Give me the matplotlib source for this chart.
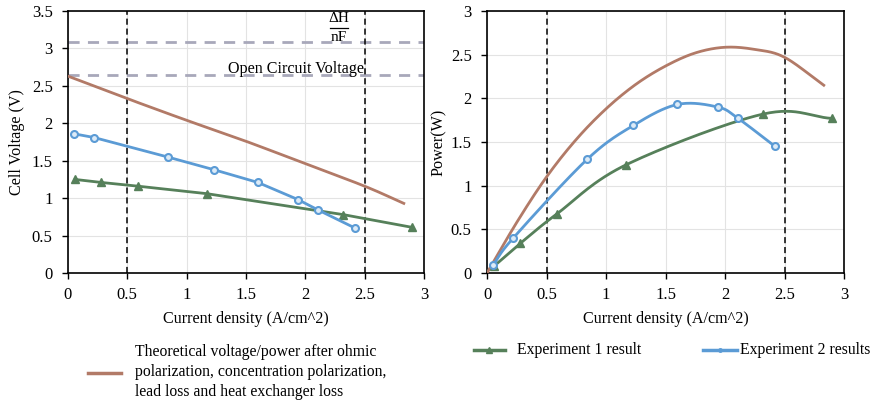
import numpy as np
import matplotlib
matplotlib.use("Agg")
import matplotlib.pyplot as plt
from matplotlib.lines import Line2D

plt.rcParams["font.family"] = ["Liberation Serif", "DejaVu Serif"]
plt.rcParams["font.size"] = 12

# ---- data ----
theory_x = [0.0, 0.5, 1.0, 1.5, 2.0, 2.5, 2.83]
theory_v = [2.63, 2.33, 2.04, 1.76, 1.46, 1.16, 0.93]
theory_px = [0.0, 0.25, 0.5, 0.75, 1.0, 1.25, 1.5, 1.75, 2.0, 2.25, 2.5, 2.83]
theory_p = [0.0, 0.58, 1.10, 1.53, 1.88, 2.16, 2.37, 2.52, 2.585, 2.56, 2.47, 2.15]

exp1_x = [0.06, 0.28, 0.59, 1.17, 2.32, 2.90]
exp1_v = [1.25, 1.21, 1.16, 1.06, 0.78, 0.61]
exp1_p = [0.08, 0.34, 0.68, 1.24, 1.82, 1.77]

exp2_x = [0.05, 0.22, 0.84, 1.23, 1.60, 1.94, 2.11, 2.42]
exp2_v = [1.86, 1.81, 1.55, 1.38, 1.21, 0.98, 0.84, 0.60]
exp2_p = [0.09, 0.40, 1.30, 1.69, 1.93, 1.90, 1.77, 1.45]

ocv = 2.64
dh_nf = 3.08
limits = [0.5, 2.5]
ticks_x = ["0", "0.5", "1", "1.5", "2", "2.5", "3"]
ticks_v = ["0", "0.5", "1", "1.5", "2", "2.5", "3", "3.5"]
ticks_p = ["0", "0.5", "1", "1.5", "2", "2.5", "3"]

c_theory = "#B27A67"
c_exp1 = "#56805A"
c_exp2 = "#5B9BD5"
c_ref = "#A8A8BA"


def smooth(x, y, n=30):
    # Catmull-Rom style smoothing like the spreadsheet "smoothed line"
    x = np.asarray(x, float)
    y = np.asarray(y, float)
    px = np.concatenate([[2 * x[0] - x[1]], x, [2 * x[-1] - x[-2]]])
    py = np.concatenate([[2 * y[0] - y[1]], y, [2 * y[-1] - y[-2]]])
    ox, oy = [], []
    t = np.linspace(0, 1, n, endpoint=False)
    for i in range(1, len(px) - 2):
        p0, p1, p2, p3 = [np.array([px[j], py[j]]) for j in range(i - 1, i + 3)]
        for tt in t:
            pt = 0.5 * ((2 * p1) + (-p0 + p2) * tt
                        + (2 * p0 - 5 * p1 + 4 * p2 - p3) * tt ** 2
                        + (-p0 + 3 * p1 - 3 * p2 + p3) * tt ** 3)
            ox.append(pt[0])
            oy.append(pt[1])
    ox.append(x[-1])
    oy.append(y[-1])
    return np.array(ox), np.array(oy)


fig = plt.figure(figsize=(8.78, 4.05), dpi=100)
ax1 = fig.add_axes([0.0774, 0.3259, 0.4055, 0.6469])
ax2 = fig.add_axes([0.5547, 0.3259, 0.4066, 0.6469])

for ax in (ax1, ax2):
    ax.grid(True, color="#E3E3E3", lw=0.8)
    ax.set_axisbelow(True)
    for s in ax.spines.values():
        s.set_linewidth(1.2)
    ax.set_xlim(0, 3)
    ax.set_xticks(np.arange(0, 3.01, 0.5))
    ax.set_xticklabels(ticks_x)
    ax.tick_params(length=4, width=1, labelsize=12)
    ax.tick_params(axis="x", pad=6)
    ax.tick_params(axis="y", pad=7)
    for xv in limits:
        ax.axvline(xv, color="black", lw=1.1, ls=(0, (4, 2.5)), zorder=3)
    ax.set_xlabel("Current density (A/cm^2)", fontsize=11.6, labelpad=6)

# left: voltage
ax1.set_ylim(0, 3.5)
ax1.set_yticks(np.arange(0, 3.51, 0.5))
ax1.set_yticklabels(ticks_v)
ax1.axhline(dh_nf, color=c_ref, lw=2, ls=(0, (4, 3)), zorder=2)
ax1.axhline(ocv, color=c_ref, lw=2, ls=(0, (4, 3)), zorder=2)
ax1.plot(*smooth(theory_x, theory_v), color=c_theory, lw=2, zorder=4)
ax1.plot(exp1_x, exp1_v, color=c_exp1, lw=2, marker="^", ms=6, zorder=5)
ax1.plot(exp2_x, exp2_v, color=c_exp2, lw=2, marker="o", ms=5,
         mfc="#DDEBF7", mew=1.5, zorder=6)
ax1.text(1.35, 2.73, "Open Circuit Voltage", ha="left", va="center", fontsize=11.6)
ax1.text(2.285, 3.40, "\u0394H", ha="center", va="center", fontsize=11)
ax1.plot([2.21, 2.36], [3.27, 3.27], color="black", lw=0.9)
ax1.text(2.285, 3.145, "nF", ha="center", va="center", fontsize=11)
ax1.set_ylabel("Cell Voltage (V)", fontsize=11.6, labelpad=5)

# right: power
ax2.set_ylim(0, 3)
ax2.set_yticks(np.arange(0, 3.01, 0.5))
ax2.set_yticklabels(ticks_p)
ax2.plot(*smooth(theory_px, theory_p), color=c_theory, lw=2, zorder=4)
ax2.plot(*smooth(exp1_x, exp1_p), color=c_exp1, lw=2, zorder=5)
ax2.plot(exp1_x, exp1_p, ls="none", color=c_exp1, marker="^", ms=6, zorder=5)
ax2.plot(*smooth(exp2_x, exp2_p), color=c_exp2, lw=2, zorder=6)
ax2.plot(exp2_x, exp2_p, ls="none", color=c_exp2, marker="o", ms=5,
         mfc="#DDEBF7", mew=1.5, zorder=6)
ax2.set_ylabel("Power(W)", fontsize=11.6, labelpad=3)

# legend entries, placed in figure pixels
W, H = 878.0, 405.0


def fx(p):
    return p / W


def fy(p):
    return 1 - p / H


fig.add_artist(Line2D([fx(88), fx(121)], [fy(373), fy(373)], color=c_theory, lw=2.5))
fig.text(fx(135), fy(372),
         "Theoretical voltage/power after ohmic\npolarization, concentration polarization,\nlead loss and heat exchanger loss",
         ha="left", va="center", fontsize=11.3, linespacing=1.32)

fig.add_artist(Line2D([fx(474), fx(505)], [fy(350), fy(350)], color=c_exp1, lw=2.5))
fig.add_artist(Line2D([fx(489.5)], [fy(350)], color=c_exp1, marker="^", ms=4))
fig.text(fx(517), fy(350), "Experiment 1 result", ha="left", va="center", fontsize=11.3)

fig.add_artist(Line2D([fx(703), fx(737)], [fy(350), fy(350)], color=c_exp2, lw=2.5))
fig.add_artist(Line2D([fx(720)], [fy(350)], color=c_exp2, marker="o", ms=2.5))
fig.text(fx(740), fy(350), "Experiment 2 results", ha="left", va="center", fontsize=11.3)

fig.savefig("out.png", dpi=100)
